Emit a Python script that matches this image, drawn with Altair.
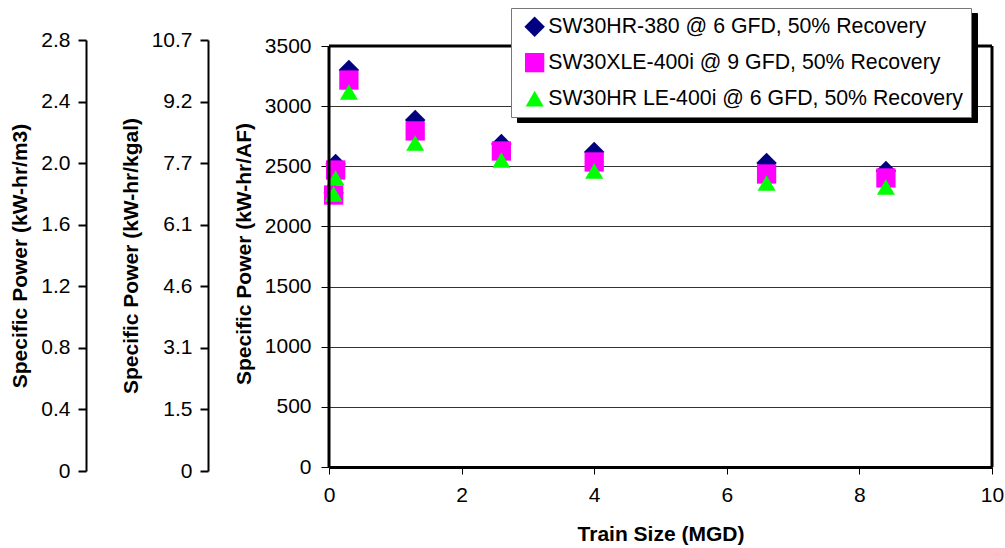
import altair as alt
import pandas as pd

FONT = "Liberation Sans"

SERIES = [
    "SW30HR-380 @ 6 GFD, 50% Recovery",
    "SW30XLE-400i @ 9 GFD, 50% Recovery",
    "SW30HR LE-400i @ 6 GFD, 50% Recovery",
]
COLORS = ["#000080", "#FF00FF", "#00FF00"]
SHAPES = ["diamond", "square", "triangle-up"]
MARKER_SIZES = [420, 324, 560]

TRAIN_SIZE = [0.07, 0.1, 0.3, 1.3, 2.6, 4.0, 6.6, 8.4]
HR380 = [2278, 2519, 3301, 2885, 2685, 2619, 2527, 2461]
XLE400 = [2261, 2469, 3217, 2794, 2627, 2536, 2436, 2403]
HRLE400 = [2270, 2403, 3118, 2694, 2552, 2461, 2361, 2328]

AF_TICKS = [0, 500, 1000, 1500, 2000, 2500, 3000, 3500]
M3_TICKS = [0, 0.4, 0.8, 1.2, 1.6, 2.0, 2.4, 2.8]
KGAL_TICKS = [0, 1.534, 3.069, 4.603, 6.137, 7.671, 9.206, 10.74]
X_TICKS = [0, 2, 4, 6, 8, 10]

X_DOMAIN = [0, 10]
AF_DOMAIN = [0, 3549.9]
M3_DOMAIN = [0, 2.8]
KGAL_DOMAIN = [0, 10.74]

rows = []
for name, vals in zip(SERIES, [HR380, XLE400, HRLE400]):
    for x, v in zip(TRAIN_SIZE, vals):
        rows.append({"size": x, "power": v, "series": name, "shadow": name})
pts = pd.DataFrame(rows)

LABEL_EXPR = "datum.value == 0 ? '0' : format(datum.value, '.1f')"

side_axis = dict(
    domainColor="black", domainWidth=2, tickColor="black", tickWidth=2,
    tickSize=8, labelFont=FONT, labelFontSize=21, labelColor="black",
    titleFont=FONT, titleFontSize=21, titleFontWeight="bold",
    titleColor="black", grid=False, labelPadding=8, titlePadding=10,
    labelExpr=LABEL_EXPR,
)

m3_df = pd.DataFrame({"v": M3_TICKS})
panel_m3 = alt.Chart(m3_df).mark_point(opacity=0).encode(
    y=alt.Y("v:Q", scale=alt.Scale(domain=M3_DOMAIN, nice=False, zero=False),
            axis=alt.Axis(values=M3_TICKS, title="Specific Power (kW-hr/m3)", **side_axis))
).properties(width=122, height=431)

kgal_df = pd.DataFrame({"v": KGAL_TICKS})
panel_kgal = alt.Chart(kgal_df).mark_point(opacity=0).encode(
    y=alt.Y("v:Q", scale=alt.Scale(domain=KGAL_DOMAIN, nice=False, zero=False),
            axis=alt.Axis(values=KGAL_TICKS, title="Specific Power (kW-hr/kgal)", **side_axis))
).properties(width=121, height=431)

x_scale = alt.Scale(domain=X_DOMAIN, nice=False, zero=False)
y_scale = alt.Scale(domain=AF_DOMAIN, nice=False, zero=False)

legend_common = dict(
    title=None, orient="none", direction="vertical", padding=8,
    rowPadding=14, symbolSize=200, symbolOffset=5, labelOffset=3,
    labelFont=FONT, labelFontSize=21.3, labelLimit=600, symbolStrokeWidth=0,
)
main_legend = alt.Legend(
    legendX=425, legendY=-32, fillColor="white", strokeColor="#777777",
    labelColor="black", zindex=2, **legend_common,
)
shadow_legend = alt.Legend(
    legendX=431, legendY=-27, fillColor="black", strokeColor="black",
    labelColor="black", labelOpacity=0, symbolFillColor="black",
    symbolStrokeColor="black", zindex=1, **legend_common,
)

points = alt.Chart(pts).mark_point(filled=True, strokeWidth=0, opacity=1).encode(
    x=alt.X("size:Q", scale=x_scale, axis=alt.Axis(
        values=X_TICKS, format="d", title="Train Size (MGD)", domainColor="black",
        domainWidth=3, tickColor="black", tickWidth=1, tickSize=7,
        labelFont=FONT, labelFontSize=21, labelColor="black", labelPadding=10,
        labelFlush=False, titleFont=FONT, titleFontSize=21,
        titleFontWeight="bold", titleColor="black", titlePadding=18, grid=False)),
    y=alt.Y("power:Q", scale=y_scale, axis=alt.Axis(
        values=AF_TICKS, format="d", title="Specific Power (kW-hr/AF)", domain=False,
        tickColor="black", tickWidth=1, tickSize=8, labelFont=FONT,
        labelFontSize=21, labelColor="black", labelPadding=10,
        titleFont=FONT, titleFontSize=21, titleFontWeight="bold",
        titleColor="black", titlePadding=10, grid=True,
        gridColor="#333333", gridWidth=1)),
    color=alt.Color("series:N", scale=alt.Scale(domain=SERIES, range=COLORS),
                    legend=main_legend),
    shape=alt.Shape("series:N", scale=alt.Scale(domain=SERIES, range=SHAPES),
                    legend=main_legend),
    size=alt.Size("series:N", scale=alt.Scale(domain=SERIES, range=MARKER_SIZES),
                  legend=None),
    strokeDash=alt.StrokeDash("shadow:N", sort=SERIES,
                              scale=alt.Scale(range=[[1, 0], [1, 0], [1, 0]]),
                              legend=shadow_legend),
)

side_df = pd.DataFrame({"x": X_DOMAIN, "y0": [0, 0], "y1": [AF_TICKS[-1]] * 2})
side_borders = alt.Chart(side_df).mark_rule(color="black", strokeWidth=3).encode(
    x=alt.X("x:Q", scale=x_scale),
    y=alt.Y("y0:Q", scale=y_scale),
    y2="y1:Q",
)
top_df = pd.DataFrame({"y": [AF_TICKS[-1]]})
top_border = alt.Chart(top_df).mark_rule(color="black", strokeWidth=3).encode(
    y=alt.Y("y:Q", scale=y_scale),
)

main = alt.layer(points, side_borders, top_border).properties(width=663, height=427)

chart = alt.hconcat(panel_m3, panel_kgal, main, spacing=0, bounds="flush").properties(
    padding={"left": 9, "top": 7, "right": 0, "bottom": 3},
    background="white",
).configure_view(stroke="transparent")

chart.save("out.html", embed_options={"renderer": "svg", "actions": False})
